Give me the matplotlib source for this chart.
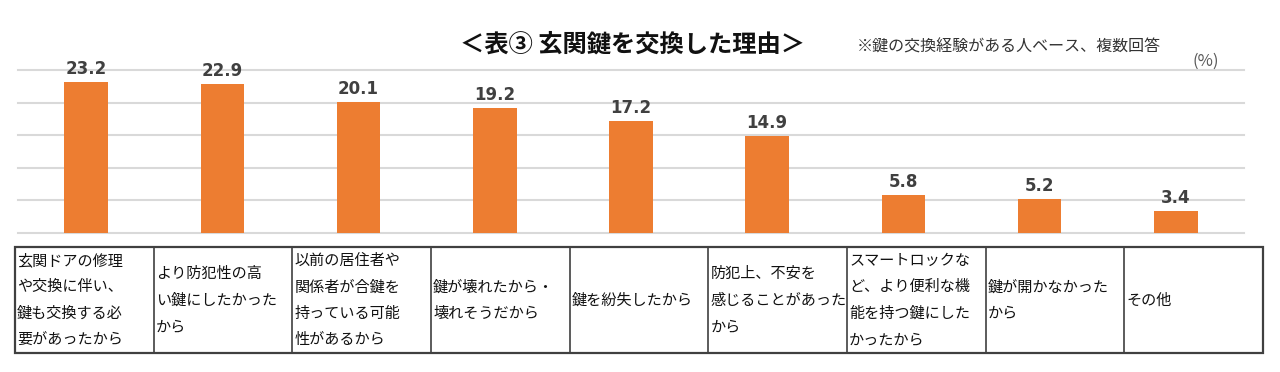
import matplotlib
matplotlib.use("Agg")
import matplotlib.pyplot as plt
import numpy as np

plt.rcParams["font.family"] = ["Noto Sans CJK JP", "DejaVu Sans"]

# データ（％、複数回答）
reasons = [
    "玄関ドアの修理\nや交換に伴い、\n鍵も交換する必\n要があったから",
    "より防犯性の高\nい鍵にしたかった\nから",
    "以前の居住者や\n関係者が合鍵を\n持っている可能\n性があるから",
    "鍵が壊れたから・\n壊れそうだから",
    "鍵を紛失したから",
    "防犯上、不安を\n感じることがあった\nから",
    "スマートロックな\nど、より便利な機\n能を持つ鍵にした\nかったから",
    "鍵が開かなかった\nから",
    "その他",
]
values = [23.2, 22.9, 20.1, 19.2, 17.2, 14.9, 5.8, 5.2, 3.4]
y_ticks = [0, 5, 10, 15, 20, 25]

W, H = 1280, 372
fig = plt.figure(figsize=(W / 100, H / 100), dpi=100)


def px_axes(x0, y0, x1, y1):
    # ピクセル座標（左上原点）から axes を作る
    return fig.add_axes([x0 / W, (H - y1) / H, (x1 - x0) / W, (y1 - y0) / H])


# 棒グラフ
ax = px_axes(18, 70, 1244, 233)
x = np.arange(len(values))
bars = ax.bar(x, values, width=0.32, color="#ED7D31", zorder=3)
ax.bar_label(bars, labels=[f"{v:.1f}" for v in values], padding=3,
             fontsize=12, fontweight="bold", color="#404040",
             family="DejaVu Sans")
ax.set_xlim(-0.5, len(values) - 0.5)
ax.set_ylim(0, 25)
ax.set_yticks(y_ticks)
ax.yaxis.grid(True, color="#D9D9D9", linewidth=1.5, zorder=0)
for gl in ax.yaxis.get_gridlines():
    gl.set_clip_on(False)
ax.set_xticks([])
ax.tick_params(axis="y", length=0, labelleft=False)
for s in ax.spines.values():
    s.set_visible(False)

# 下の表（項目名）
tab = px_axes(15, 247, 1263, 353)
n = len(reasons)
tab.set_xlim(0, n)
tab.set_ylim(0, 1)
tab.axis("off")
tab.add_patch(plt.Rectangle((0, 0), n, 1, fill=False, edgecolor="#404040",
                            linewidth=1.6, clip_on=False))
for i in range(1, n):
    tab.plot([i, i], [0, 1], color="#404040", linewidth=1.2, clip_on=False)
for i, lab in enumerate(reasons):
    tab.text(i + 0.015, 0.5, lab, ha="left", va="center", fontsize=10.9,
             color="#111111", linespacing=1.73)

# タイトル・注記
fig.text(632 / W, 1 - 45 / H, "＜表③ 玄関鍵を交換した理由＞", ha="center",
         va="center", fontsize=17.5, fontweight="bold", color="#111111")
fig.text(857 / W, 1 - 47 / H, "※鍵の交換経験がある人ベース、複数回答",
         ha="left", va="center", fontsize=11.5, color="#333333")
fig.text(1206 / W, 1 - 61 / H, "(%)", ha="center", va="center",
         fontsize=12, color="#595959")

fig.savefig("out.png", dpi=100)
